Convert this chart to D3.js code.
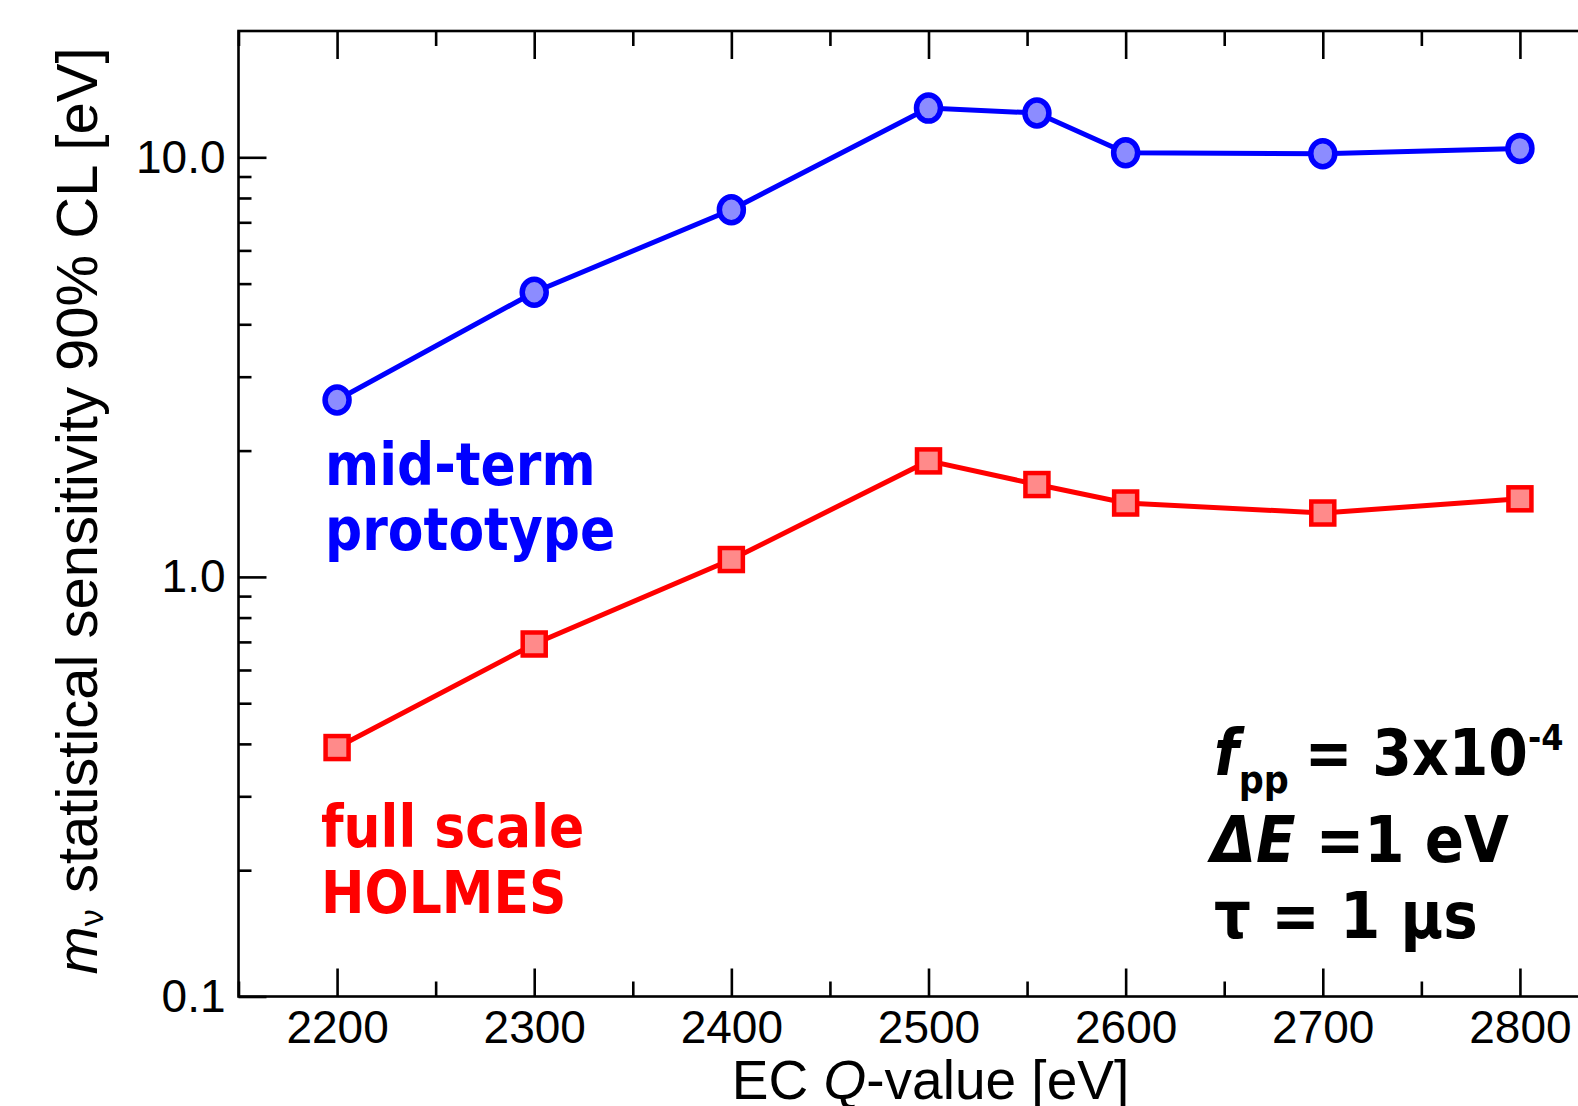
<!DOCTYPE html>
<html>
<head>
<meta charset="utf-8">
<script src="https://cdn.jsdelivr.net/npm/d3@7"></script>
<style>
  body { margin: 0; background: #fff; }
  svg { display: block; }
  .axis text { font-family: "Liberation Sans", Arial, sans-serif; font-size: 46px; fill: #000; }
  .axis path, .axis line { stroke: #000; stroke-width: 2.6; }
  .note { font-family: "DejaVu Sans", sans-serif; font-weight: bold; }
</style>
</head>
<body>
<div id="chart"></div>
<script>
// data
var q_values = [2200, 2300, 2400, 2500, 2555, 2600, 2700, 2800];
var mid_term = [2.64, 4.77, 7.5, 13.1, 12.75, 10.25, 10.2, 10.5];
var full_scale = [0.392, 0.692, 1.1, 1.89, 1.66, 1.5, 1.42, 1.535];
var x_major = [2200, 2300, 2400, 2500, 2600, 2700, 2800];
var x_minor = [2150, 2250, 2350, 2450, 2550, 2650, 2750, 2850];
var y_major = [0.1, 1, 10];
var y_minor = [0.2, 0.3, 0.4, 0.5, 0.6, 0.7, 0.8, 0.9, 2, 3, 4, 5, 6, 7, 8, 9];

var width = 1578, height = 1106;
var plot = {left: 238.5, right: 1618.5, top: 31, bottom: 996.5};

var svg = d3.select('#chart')
  .append('svg')
  .attr('width', width)
  .attr('height', height);

var x = d3.scaleLinear()
  .domain([2150, 2850])
  .range([plot.left, plot.right]);

var y = d3.scaleLog()
  .domain([0.1, 20])
  .range([plot.bottom, plot.top]);

// frame
svg.append('rect')
  .attr('x', plot.left)
  .attr('y', plot.top)
  .attr('width', plot.right - plot.left)
  .attr('height', plot.bottom - plot.top)
  .attr('fill', 'none')
  .attr('stroke', '#000')
  .attr('stroke-width', 2.6);

// bottom axis
svg.append('g')
  .attr('class', 'axis')
  .attr('transform', 'translate(0,' + plot.bottom + ')')
  .call(d3.axisBottom(x).tickValues(x_major).tickSize(-28).tickSizeOuter(0).tickPadding(14)
    .tickFormat(d3.format('d')));

svg.append('g')
  .attr('class', 'axis')
  .attr('transform', 'translate(0,' + plot.bottom + ')')
  .call(d3.axisBottom(x).tickValues(x_minor).tickSize(-15).tickSizeOuter(0).tickFormat(''));

// top axis, ticks only
svg.append('g')
  .attr('class', 'axis')
  .attr('transform', 'translate(0,' + plot.top + ')')
  .call(d3.axisTop(x).tickValues(x_major).tickSize(-28).tickSizeOuter(0).tickFormat(''));

svg.append('g')
  .attr('class', 'axis')
  .attr('transform', 'translate(0,' + plot.top + ')')
  .call(d3.axisTop(x).tickValues(x_minor).tickSize(-15).tickSizeOuter(0).tickFormat(''));

// left axis
svg.append('g')
  .attr('class', 'axis')
  .attr('transform', 'translate(' + plot.left + ',0)')
  .call(d3.axisLeft(y).tickValues(y_major).tickSize(-28).tickSizeOuter(0).tickPadding(13)
    .tickFormat(d3.format('.1f')));

svg.append('g')
  .attr('class', 'axis')
  .attr('transform', 'translate(' + plot.left + ',0)')
  .call(d3.axisLeft(y).tickValues(y_minor).tickSize(-13).tickSizeOuter(0).tickFormat(''));

svg.selectAll('.axis .domain').remove();

// axis titles
var x_title = svg.append('text')
  .attr('x', (plot.left + plot.right) / 2 + 2)
  .attr('y', 1099)
  .attr('text-anchor', 'middle')
  .style('font-family', '"Liberation Sans", Arial, sans-serif')
  .style('font-size', '55px');
x_title.append('tspan').text('EC ');
x_title.append('tspan').style('font-style', 'italic').text('Q');
x_title.append('tspan').text('-value [eV]');

var y_title = svg.append('text')
  .attr('transform', 'translate(97,511) rotate(-90)')
  .attr('text-anchor', 'middle')
  .style('font-family', '"Liberation Sans", Arial, sans-serif')
  .style('font-size', '58px');
y_title.append('tspan').style('font-style', 'italic').text('m');
y_title.append('tspan').attr('dy', 6).style('font-size', '34px').text('\u03bd');
y_title.append('tspan').attr('dy', -6).text(' statistical sensitivity 90% CL [eV]');

// series
var line = d3.line()
  .x(function(d) { return x(d[0]); })
  .y(function(d) { return y(d[1]); });

var blue_pts = d3.zip(q_values, mid_term);
var red_pts = d3.zip(q_values, full_scale);

svg.append('path')
  .datum(blue_pts)
  .attr('d', line)
  .attr('fill', 'none')
  .attr('stroke', '#0000ff')
  .attr('stroke-width', 5);

svg.append('path')
  .datum(red_pts)
  .attr('d', line)
  .attr('fill', 'none')
  .attr('stroke', '#ff0000')
  .attr('stroke-width', 5);

svg.selectAll('.blue_dot')
  .data(blue_pts)
  .enter()
  .append('ellipse')
  .attr('class', 'blue_dot')
  .attr('cx', function(d) { return x(d[0]); })
  .attr('cy', function(d) { return y(d[1]); })
  .attr('rx', 12)
  .attr('ry', 13)
  .attr('fill', '#8c8cff')
  .attr('stroke', '#0000ff')
  .attr('stroke-width', 5.5);

var sq = 23;
svg.selectAll('.red_sq')
  .data(red_pts)
  .enter()
  .append('rect')
  .attr('class', 'red_sq')
  .attr('x', function(d) { return x(d[0]) - sq / 2; })
  .attr('y', function(d) { return y(d[1]) - sq / 2; })
  .attr('width', sq)
  .attr('height', sq)
  .attr('fill', '#ff8a8a')
  .attr('stroke', '#ff0000')
  .attr('stroke-width', 4.5);

// annotations
function note(lines, color, x0, size) {
  lines.forEach(function(l) {
    svg.append('text')
      .attr('class', 'note')
      .attr('transform', 'translate(' + x0 + ',' + l.y + ') scale(1,1.12)')
      .style('font-size', size + 'px')
      .attr('fill', color)
      .text(l.t);
  });
}

note([{t: 'mid-term', y: 485}, {t: 'prototype', y: 550}], '#0000ff', 325, 52);
note([{t: 'full scale', y: 847}, {t: 'HOLMES', y: 913}], '#ff0000', 321, 52);

var g1 = svg.append('text')
  .attr('class', 'note')
  .attr('transform', 'translate(1214,775) scale(1,1.12)')
  .style('font-size', '57px');
g1.append('tspan').style('font-style', 'italic').text('f');
g1.append('tspan').attr('dy', 16).style('font-size', '35px').text('pp');
g1.append('tspan').attr('dy', -16).attr('dx', -4).text(' = 3x10');
g1.append('tspan').attr('dy', -22).style('font-size', '32px').text('-4');

var g2 = svg.append('text')
  .attr('class', 'note')
  .attr('transform', 'translate(1211,862) scale(1,1.12)')
  .style('font-size', '58px');
g2.append('tspan').style('font-style', 'italic').text('\u0394E');
g2.append('tspan').text(' =1 eV');

svg.append('text')
  .attr('class', 'note')
  .attr('transform', 'translate(1214,938) scale(1,1.12)')
  .style('font-size', '58px')
  .text('\u03c4 = 1 \u03bcs');
</script>
</body>
</html>
